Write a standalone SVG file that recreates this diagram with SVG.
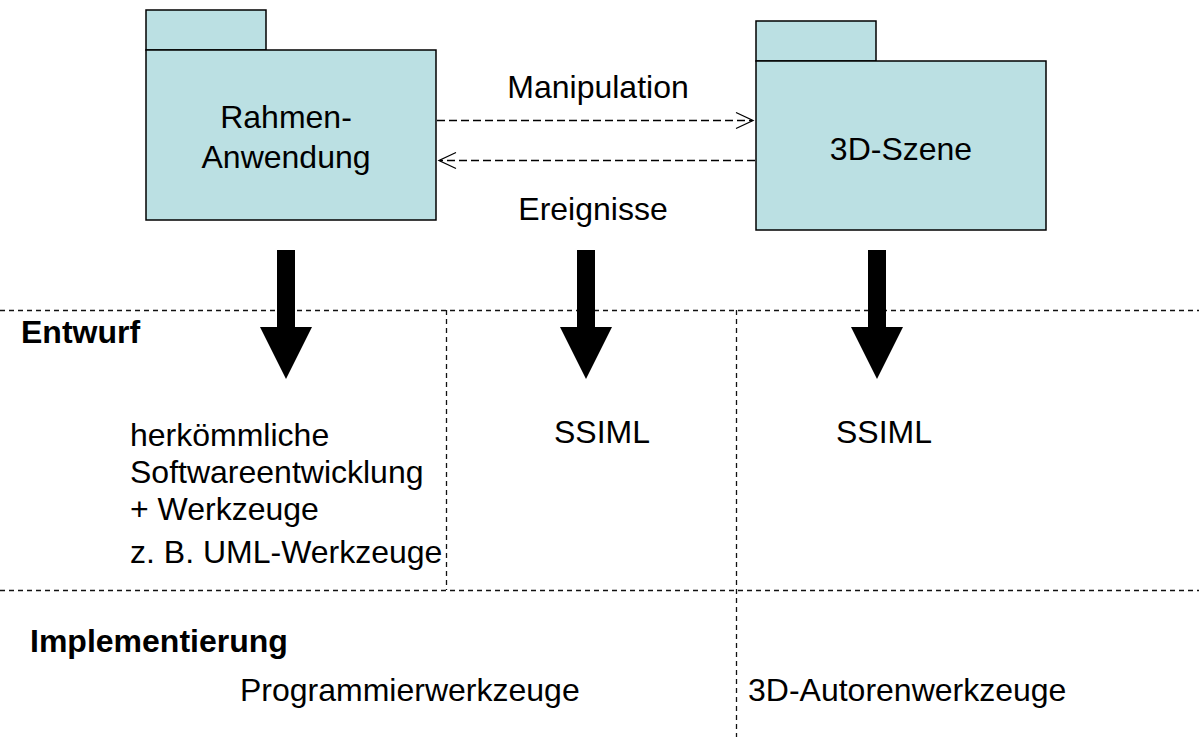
<svg xmlns="http://www.w3.org/2000/svg" width="1199" height="737" viewBox="0 0 1199 737">
  <style>
    .pkg { fill: #bbe0e3; stroke: #000; stroke-width: 1.5; }
    .t { font-family: "Liberation Sans", Arial, sans-serif; font-size: 32px; fill: #000; }
    .b { font-weight: bold; }
    .dep { fill: none; stroke: #000; stroke-width: 1.3; stroke-dasharray: 8 4; }
    .head { fill: none; stroke: #000; stroke-width: 1.3; }
    .sep { fill: none; stroke: #111; stroke-width: 1.3; stroke-dasharray: 5 4; }
    .big { fill: #000; }
  </style>
  <rect width="1199" height="737" fill="#fff"/>

  <!-- separators between phases and tool columns -->
  <g id="grid">
    <line class="sep" x1="0" y1="310.5" x2="1199" y2="310.5"/>
    <line class="sep" x1="0" y1="590.5" x2="1199" y2="590.5"/>
    <line class="sep" x1="446.5" y1="310" x2="446.5" y2="590"/>
    <line class="sep" x1="736.5" y1="310" x2="736.5" y2="737"/>
  </g>

  <g id="rahmen">
    <rect class="pkg" x="146" y="10" width="120" height="40"/>
    <rect class="pkg" x="146" y="50" width="290" height="170"/>
    <text class="t" x="286" y="128" text-anchor="middle">Rahmen-</text>
    <text class="t" x="286" y="168" text-anchor="middle">Anwendung</text>
  </g>

  <g id="szene">
    <rect class="pkg" x="756" y="21" width="120" height="40"/>
    <rect class="pkg" x="756" y="61" width="290" height="169"/>
    <text class="t" x="901" y="160" text-anchor="middle">3D-Szene</text>
  </g>

  <g id="connectors">
    <line class="dep" x1="437" y1="120.5" x2="752" y2="120.5"/>
    <polyline class="head" points="736,112.5 753,120.5 736,128.5"/>
    <line class="dep" x1="755" y1="160.5" x2="440" y2="160.5"/>
    <polyline class="head" points="456,152.5 439,160.5 456,168.5"/>
    <text class="t" x="598" y="98" text-anchor="middle">Manipulation</text>
    <text class="t" x="593" y="220" text-anchor="middle">Ereignisse</text>
  </g>

  <g id="arrows">
    <polygon class="big" points="277,250 295,250 295,327 312,327 286,379 260,327 277,327"/>
    <polygon class="big" points="577,250 595,250 595,327 612,327 586,379 560,327 577,327"/>
    <polygon class="big" points="868,250 886,250 886,327 903,327 877,379 851,327 868,327"/>
  </g>

  <g id="entwurf">
    <text class="t b" x="21" y="343">Entwurf</text>
    <text class="t" x="130" y="446">herkömmliche</text>
    <text class="t" x="130" y="483">Softwareentwicklung</text>
    <text class="t" x="130" y="520">+ Werkzeuge</text>
    <text class="t" x="130" y="563">z. B. UML-Werkzeuge</text>
    <text class="t" x="554" y="443">SSIML</text>
    <text class="t" x="836" y="443">SSIML</text>
  </g>

  <g id="implementierung">
    <text class="t b" x="30" y="652">Implementierung</text>
    <text class="t" x="240" y="701">Programmierwerkzeuge</text>
    <text class="t" x="748" y="701">3D-Autorenwerkzeuge</text>
  </g>
</svg>
